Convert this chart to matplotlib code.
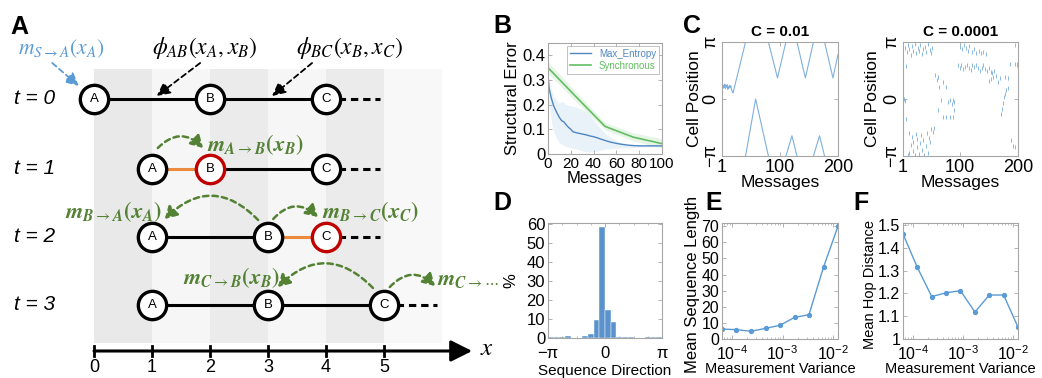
import numpy as np
import matplotlib
matplotlib.use("Agg")
import matplotlib.pyplot as plt
from matplotlib.patches import FancyArrowPatch, Rectangle

plt.rcParams['font.family'] = ['Liberation Sans', 'DejaVu Sans']
plt.rcParams['mathtext.fontset'] = 'stix'

# ---------------- data ----------------
# Panel A (diagram): node positions on the x axis at each time step
a_step_labels = ['t = 0', 't = 1', 't = 2', 't = 3']
a_pos_A = [0, 1, 1, 1]
a_pos_B = [2, 2, 3, 3]
a_pos_C = [4, 4, 4, 5]
a_active = ['', 'B', 'C', '']          # node that just received a message
a_tail_end = [4.93, 4.93, 4.93, 5.92]
a_axis_ticks = [0, 1, 2, 3, 4, 5]

# Panel B
b_me_x = [0, 1, 2, 3, 4, 5, 6, 8, 10, 12, 14, 16, 18, 20, 22, 25, 28, 31, 34, 37,
          40, 43, 46, 50, 55, 60, 65, 70, 75, 80, 90, 100]
b_me_y = [0.32, 0.265, 0.245, 0.225, 0.21, 0.195, 0.185, 0.165, 0.148, 0.135, 0.13, 0.118,
          0.108, 0.1, 0.09, 0.086, 0.083, 0.08, 0.077, 0.073, 0.07, 0.066, 0.061, 0.055,
          0.048, 0.043, 0.039, 0.036, 0.034, 0.033, 0.033, 0.033]
b_me_band_x = [0, 1, 3, 5, 8, 10, 12, 16, 20, 25, 30, 34, 38, 43, 47, 51, 57, 63, 70, 80, 100]
b_me_hi = [0.33, 0.3, 0.26, 0.235, 0.215, 0.205, 0.215, 0.2, 0.195, 0.19, 0.18, 0.17,
           0.15, 0.12, 0.1, 0.08, 0.062, 0.048, 0.04, 0.037, 0.036]
b_me_lo = [0.31, 0.2, 0.13, 0.09, 0.06, 0.045, 0.04, 0.03, 0.025, 0.02, 0.013, 0.008,
           0.008, 0.012, 0.016, 0.02, 0.022, 0.024, 0.025, 0.028, 0.03]
b_sync_x = [0, 25, 50, 75, 100]
b_sync_y = [0.35, 0.23, 0.112, 0.068, 0.042]
b_sync_lo = [0.328, 0.21, 0.098, 0.052, 0.025]
b_sync_hi = [0.374, 0.25, 0.127, 0.086, 0.062]

# Panel C (positions in units of pi); NaN separates wrapped segments
c1_msgs = [1, 2, 3, 4, 5, 6, 7, 8, 9, 10, 11, 12, 13, 14, 15, 16, 17, 18, 19, 20, 41.4, np.nan,
           41.4, 58.7, 80.6, np.nan,
           80.6, 96.2, 110.6, np.nan,
           110.6, 121, 129.6, np.nan,
           129.6, 144, 157.9, np.nan,
           157.9, 168.3, 176.9, np.nan,
           176.9, 191.3, 200]
c1_pos = [0.22, 0.25, 0.19, 0.24, 0.2, 0.26, 0.18, 0.23, 0.21, 0.25, 0.17, 0.22, 0.19, 0.24,
          0.2, 0.23, 0.18, 0.15, 0.12, 0.11, 1.0, np.nan,
          -1.0, 0.0, -1.0, np.nan,
          1.0, 0.37, 1.0, np.nan,
          -1.0, -0.645, -1.0, np.nan,
          1.0, 0.37, 1.0, np.nan,
          -1.0, -0.645, -1.0, np.nan,
          1.0, 0.37, 0.78]
c2_msgs = [5, 8, 10, 12, 14, 17, 19, 22, 24, 27, 29, 31, 34, 36, 39, 41, 44, 47, 50, 52,
           3, 4, 6, 7,
           9, 11, 12, 14, 16, 18, 19, 21, 23, 25, 26, 28, 30, 32, 34, 36, 38, 40, 42, 44, 46, 48, 50, 53, 55,
           56, 59, 62, 64, 70, 76,
           67, 79, 82, 85, 88, 90,
           62, 70, 76, 82, 88, 90,
           100, 103, 106, 110, 113, 116, 120, 124, 128, 132, 136, 140, 145,
           96, 99, 102, 105, 108, 112, 116, 118, 121, 124, 127, 130, 134, 137, 140, 143, 146, 150, 153, 155, 158,
           154, 157, 162, 165, 168, 150, 177, 183,
           182, 180, 178, 176, 174, 172, 171,
           186, 195, 198, 199, 194,
           188, 191, 194]
c2_pos = [0.9, 0.82, 0.95, 0.87, 0.78, 0.93, 0.85, 0.96, 0.8, 0.9, 0.84, 0.94, 0.79, 0.88, 0.92, 0.83, 0.96, 0.86, 0.8, 0.9,
          0.0, -0.04, 0.58, -0.35,
          -0.98, -0.6, -0.95, -0.8, -0.66, -0.92, -0.75, -0.99, -0.62, -0.85, -0.7, -0.97, -0.78, -0.64, -0.9, -0.72, -0.98, -0.82, -0.6, -0.95, -0.68, -0.76, -0.52, -0.58, -0.5,
          0.42, 0.33, 0.39, 0.21, 0.3, 0.21,
          -0.02, -0.05, -0.02, -0.08, -0.02, -0.05,
          -0.2, -0.32, -0.32, -0.32, -0.32, -0.2,
          0.92, 0.88, 0.95, 0.9, 0.85, 0.93, 0.82, 0.87, 0.8, 0.84, 0.8, 0.82, 0.79,
          0.6, 0.55, 0.6, 0.52, 0.57, 0.6, 0.55, 0.51, 0.6, 0.57, 0.6, 0.55, 0.5, 0.54, 0.59, 0.52, 0.5, 0.55, 0.48, 0.45, 0.5,
          0.35, 0.38, 0.4, 0.3, 0.37, 0.32, 0.39, 0.36,
          0.2, 0.15, 0.08, 0.03, -0.07, -0.17, -0.27,
          0.62, 0.62, 0.62, 0.6, 0.94,
          -0.72, -0.82, -0.84]

# Panel D: 20-bin histogram of sequence direction (%)
d_counts = [0.5, 0.4, 0.5, 0.8, 0.2, 0.2, 1.0, 2.3, 9.6, 58.2, 14.7, 8.6, 0.7, 0.7,
            0.3, 0.2, 0.2, 0.5, 0.3, 0.4]

# Panels E, F
ef_variance = [6.3e-5, 1.22e-4, 2.37e-4, 4.6e-4, 8.9e-4, 1.73e-3, 3.35e-3, 6.5e-3, 1.26e-2]
e_seq_len = [6.2, 5.8, 4.8, 6.6, 8.5, 13.4, 15.1, 44.6, 70.0]
f_hop = [1.461, 1.314, 1.186, 1.203, 1.212, 1.118, 1.193, 1.193, 1.052]

# ---------------- figure ----------------
W, H = 1042, 378
fig = plt.figure(figsize=(W / 100, H / 100), dpi=100)


def ax_px(l, t, r, b):
    return fig.add_axes([l / W, 1 - b / H, (r - l) / W, (b - t) / H])


GRID = '#a6a6a6'
BLUE = '#5b9bd5'
GREEN_LINE = '#62bd62'


def style(ax, labelsize=12):
    for s in ax.spines.values():
        s.set_color(GRID)
        s.set_linewidth(0.8)
    ax.tick_params(which='both', direction='in', color=GRID, top=True, right=True,
                   labelsize=labelsize, pad=2)
    ax.tick_params(which='major', length=3, width=0.6)
    ax.tick_params(which='minor', length=1.5, width=0.5)


# ---------------- Panel A ----------------
axA = fig.add_axes([0, 0, 480 / W, 1])
PX = 58.0  # pixels per unit on panel A
axA.set_xlim(-94 / PX, (480 - 94) / PX)
axA.set_ylim(H, 0)
axA.axis('off')
row_y = [99, 169, 237, 305]
band_cols = ['#e9e9e9', '#f6f6f6', '#ebebeb', '#f6f6f6', '#ebebeb', '#f8f8f8']
for i, c in enumerate(band_cols):
    axA.add_patch(Rectangle((i, 69), 1, 274, facecolor=c, edgecolor='none', zorder=0))

ORANGE = '#ee8a3c'
RED = '#c00000'
for k, y in enumerate(row_y):
    pa, pb, pc = a_pos_A[k], a_pos_B[k], a_pos_C[k]
    axA.plot([pa, pb], [y, y], color=ORANGE if a_active[k] == 'B' else 'k', lw=2.2, zorder=2,
             solid_capstyle='butt')
    axA.plot([pb, pc], [y, y], color=ORANGE if a_active[k] == 'C' else 'k', lw=2.2, zorder=2,
             solid_capstyle='butt')
    axA.plot([pc, a_tail_end[k]], [y, y], color='k', lw=2.2, ls=(0, (2.4, 1.6)), zorder=1)
    for name, p in zip(['A', 'B', 'C'], [pa, pb, pc]):
        ec = RED if a_active[k] == name else 'k'
        axA.plot([p], [y], marker='o', ms=20.4, mfc='white', mec=ec, mew=2.4, zorder=3)
        axA.text(p, y + 0.5, name, ha='center', va='center', fontsize=9.5, zorder=4)
    axA.text(-80 / PX, y, a_step_labels[k], ha='left', va='center', fontsize=15,
             style='italic')

# bottom axis
AX_Y = 351
axA.add_patch(FancyArrowPatch((0, AX_Y), (6.52, AX_Y),
                              arrowstyle='-|>,head_length=1.0,head_width=0.5',
                              mutation_scale=13, lw=2.2, color='k', shrinkA=0, shrinkB=0))
for t in a_axis_ticks:
    axA.plot([t, t], [345.5, 356], color='k', lw=2)
    axA.text(t, 368, str(t), ha='center', va='center', fontsize=13)
axA.text(6.78, 348, r'$x$', ha='center', va='center', fontsize=18)

# labels and arrows
GREEN = '#548235'
axA.text(-1.31, 49, r'$m_{S\rightarrow A}(x_A)$', color=BLUE, fontsize=15.5, ha='left',
         va='center')
axA.text(1.0, 48, r'$\phi_{AB}(x_A,x_B)$', color='k', fontsize=17, ha='left', va='center')
axA.text(3.48, 48, r'$\phi_{BC}(x_B,x_C)$', color='k', fontsize=17, ha='left', va='center')


def straight_arrow(p0, p1, color):
    axA.add_patch(FancyArrowPatch(p0, p1, arrowstyle='-|>,head_length=0.8,head_width=0.4',
                                  mutation_scale=10, lw=1.3, ls=(0, (3, 2)), color=color,
                                  shrinkA=0, shrinkB=0))


straight_arrow((-0.72, 63), (-0.26, 86), BLUE)
straight_arrow((1.83, 63), (1.08, 96), 'k')
straight_arrow((3.76, 63), (3.07, 96), 'k')


def curved_arrow(p0, p1, rad):
    axA.add_patch(FancyArrowPatch(p0, p1, arrowstyle='-|>,head_length=0.6,head_width=0.35',
                                  connectionstyle='arc3,rad=%s' % rad,
                                  mutation_scale=12, lw=1.8, ls=(0, (2.2, 1.6)), color=GREEN,
                                  shrinkA=0, shrinkB=0))


curved_arrow((1.10, 148), (1.88, 148), -0.5)
curved_arrow((2.83, 220), (1.22, 219), 0.5)
curved_arrow((3.09, 219), (3.86, 217), -0.5)
curved_arrow((4.81, 288), (3.17, 287), 0.5)
curved_arrow((5.10, 287), (5.88, 286), -0.5)

gkw = dict(color=GREEN, fontsize=16, ha='left', va='center', clip_on=False)
axA.text(1.95, 145, r'$\mathbfit{m}_{\mathbfit{A}\rightarrow \mathbfit{B}}\mathbf{(}\mathbfit{x}_{\mathbfit{B}}\mathbf{)}$', **gkw)
axA.text(-0.5, 212, r'$\mathbfit{m}_{\mathbfit{B}\rightarrow \mathbfit{A}}\mathbf{(}\mathbfit{x}_{\mathbfit{A}}\mathbf{)}$', **gkw)
axA.text(3.93, 212, r'$\mathbfit{m}_{\mathbfit{B}\rightarrow \mathbfit{C}}\mathbf{(}\mathbfit{x}_{\mathbfit{C}}\mathbf{)}$', **gkw)
axA.text(1.53, 278, r'$\mathbfit{m}_{\mathbfit{C}\rightarrow \mathbfit{B}}\mathbf{(}\mathbfit{x}_{\mathbfit{B}}\mathbf{)}$', **gkw)
axA.text(5.91, 279, r'$\mathbfit{m}_{\mathbfit{C}\rightarrow\cdots}$', **gkw)

# ---------------- Panel B ----------------
axB = ax_px(548, 43, 662, 154)
axB.fill_between(b_me_band_x, b_me_lo, b_me_hi, color=BLUE, alpha=0.13, lw=0)
axB.fill_between(b_sync_x, b_sync_lo, b_sync_hi, color=GREEN_LINE, alpha=0.15, lw=0)
axB.plot(b_me_x, b_me_y, color='#4f86c0', lw=1.0, label='Max_Entropy')
axB.plot(b_sync_x, b_sync_y, color=GREEN_LINE, lw=1.2, label='Synchronous')
axB.set_xlim(0, 100)
axB.set_ylim(0, 0.45)
axB.set_xticks([0, 20, 40, 60, 80, 100])
axB.set_yticks([0, 0.1, 0.2, 0.3, 0.4])
axB.set_yticklabels(['0', '0.1', '0.2', '0.3', '0.4'])
style(axB)
axB.tick_params(axis='x', labelsize=11)
axB.set_xlabel('Messages', fontsize=12)
axB.set_ylabel('Structural Error', fontsize=12)
axB.xaxis.set_label_coords(0.5, -0.155)
axB.yaxis.set_label_coords(-0.245, 0.5)
leg = axB.legend(loc='upper right', fontsize=7, frameon=True, fancybox=False,
                 edgecolor=GRID, handlelength=2.2, borderpad=0.3, labelspacing=0.2,
                 borderaxespad=0.3, labelcolor='linecolor')
leg.get_frame().set_linewidth(0.6)

# ---------------- Panel C ----------------
PI = np.pi
for (l, r), msgs, pos, title, mode, ylx in [((722, 838), c1_msgs, c1_pos, 'C = 0.01', 'line', -0.17),
                                            ((903, 1018), c2_msgs, c2_pos, 'C = 0.0001', 'pts', -0.2)]:
    ax = ax_px(l, 42, r, 156)
    yv = np.array(pos, dtype=float) * PI
    if mode == 'line':
        ax.plot(msgs, yv, color='#7fb0de', lw=0.8)
    else:
        ax.plot(msgs, yv, ls='none', marker='|', ms=2.4, mew=0.7, color='#8ab8e2')
    ax.set_xlim(1, 200)
    ax.set_ylim(-PI, PI)
    ax.set_xticks([1, 100, 200])
    ax.set_yticks([-PI, 0, PI])
    ax.set_yticklabels(['\u2212\u03c0', '0', '\u03c0'], rotation=90, va='center')
    style(ax, labelsize=13)
    ax.set_xlabel('Messages', fontsize=12.5)
    ax.set_ylabel('Cell Position', fontsize=12.5)
    ax.xaxis.set_label_coords(0.5, -0.165)
    ax.yaxis.set_label_coords(ylx, 0.5)
    ax.set_title(title, fontsize=11, fontweight='bold', pad=4)

# ---------------- Panel D ----------------
axD = ax_px(548, 223, 662, 338)
edges = np.linspace(-PI, PI, len(d_counts) + 1)
axD.bar(edges[:-1], d_counts, width=edges[1] - edges[0], align='edge', color='#5a93cc',
        edgecolor='white', lw=0.3)
axD.set_xlim(-PI, PI)
axD.set_ylim(0, 60.5)
axD.set_xticks([-PI, 0, PI])
axD.set_xticklabels(['\u2212\u03c0', '0', '\u03c0'])
axD.set_xticks(np.arange(-3, 4) * PI / 4, minor=True)
axD.set_yticks([0, 10, 20, 30, 40, 50, 60])
style(axD)
axD.tick_params(axis='x', pad=6)
axD.set_xlabel('Sequence Direction', fontsize=11)
axD.set_ylabel('%', fontsize=12)
axD.xaxis.set_label_coords(0.5, -0.225)
axD.yaxis.set_label_coords(-0.26, 0.5)

# ---------------- Panels E, F ----------------
for (l, r), vals, ylab, ylfs, ylx, ylim, yt, ytl in [
        ((722, 838), e_seq_len, 'Mean Sequence Length', 12, -0.19, (0, 72),
         [0, 10, 20, 30, 40, 50, 60, 70], ['0', '10', '20', '30', '40', '50', '60', '70']),
        ((903, 1018), f_hop, 'Mean Hop Distance', 10.5, -0.226, (1, 1.509),
         [1, 1.1, 1.2, 1.3, 1.4, 1.5], ['1', '1.1', '1.2', '1.3', '1.4', '1.5'])]:
    ax = ax_px(l, 223, r, 339)
    ax.plot(ef_variance, vals, color=BLUE, lw=1.0, marker='o', ms=2.8)
    ax.set_xscale('log')
    ax.set_xlim(ef_variance[0], ef_variance[-1])
    ax.set_ylim(*ylim)
    ax.set_xticks([1e-4, 1e-3, 1e-2])
    ax.set_xticklabels([r'$\mathregular{10^{-4}}$', r'$\mathregular{10^{-3}}$',
                        r'$\mathregular{10^{-2}}$'])
    ax.set_yticks(yt)
    ax.set_yticklabels(ytl)
    style(ax, labelsize=11.5)
    ax.tick_params(axis='x', pad=4)
    ax.set_xlabel('Measurement Variance', fontsize=10.5)
    ax.set_ylabel(ylab, fontsize=ylfs)
    ax.xaxis.set_label_coords(0.5, -0.2)
    ax.yaxis.set_label_coords(ylx, 0.47)

# ---------------- panel letters ----------------
for letter, x, yb in [('A', 10, 34), ('B', 493, 33), ('C', 683, 33), ('D', 493, 210),
                      ('E', 705, 210), ('F', 853, 210)]:
    fig.text(x / W, 1 - yb / H, letter, fontsize=18, fontweight='bold', ha='left',
             va='baseline')

fig.savefig('out.png', dpi=100)
